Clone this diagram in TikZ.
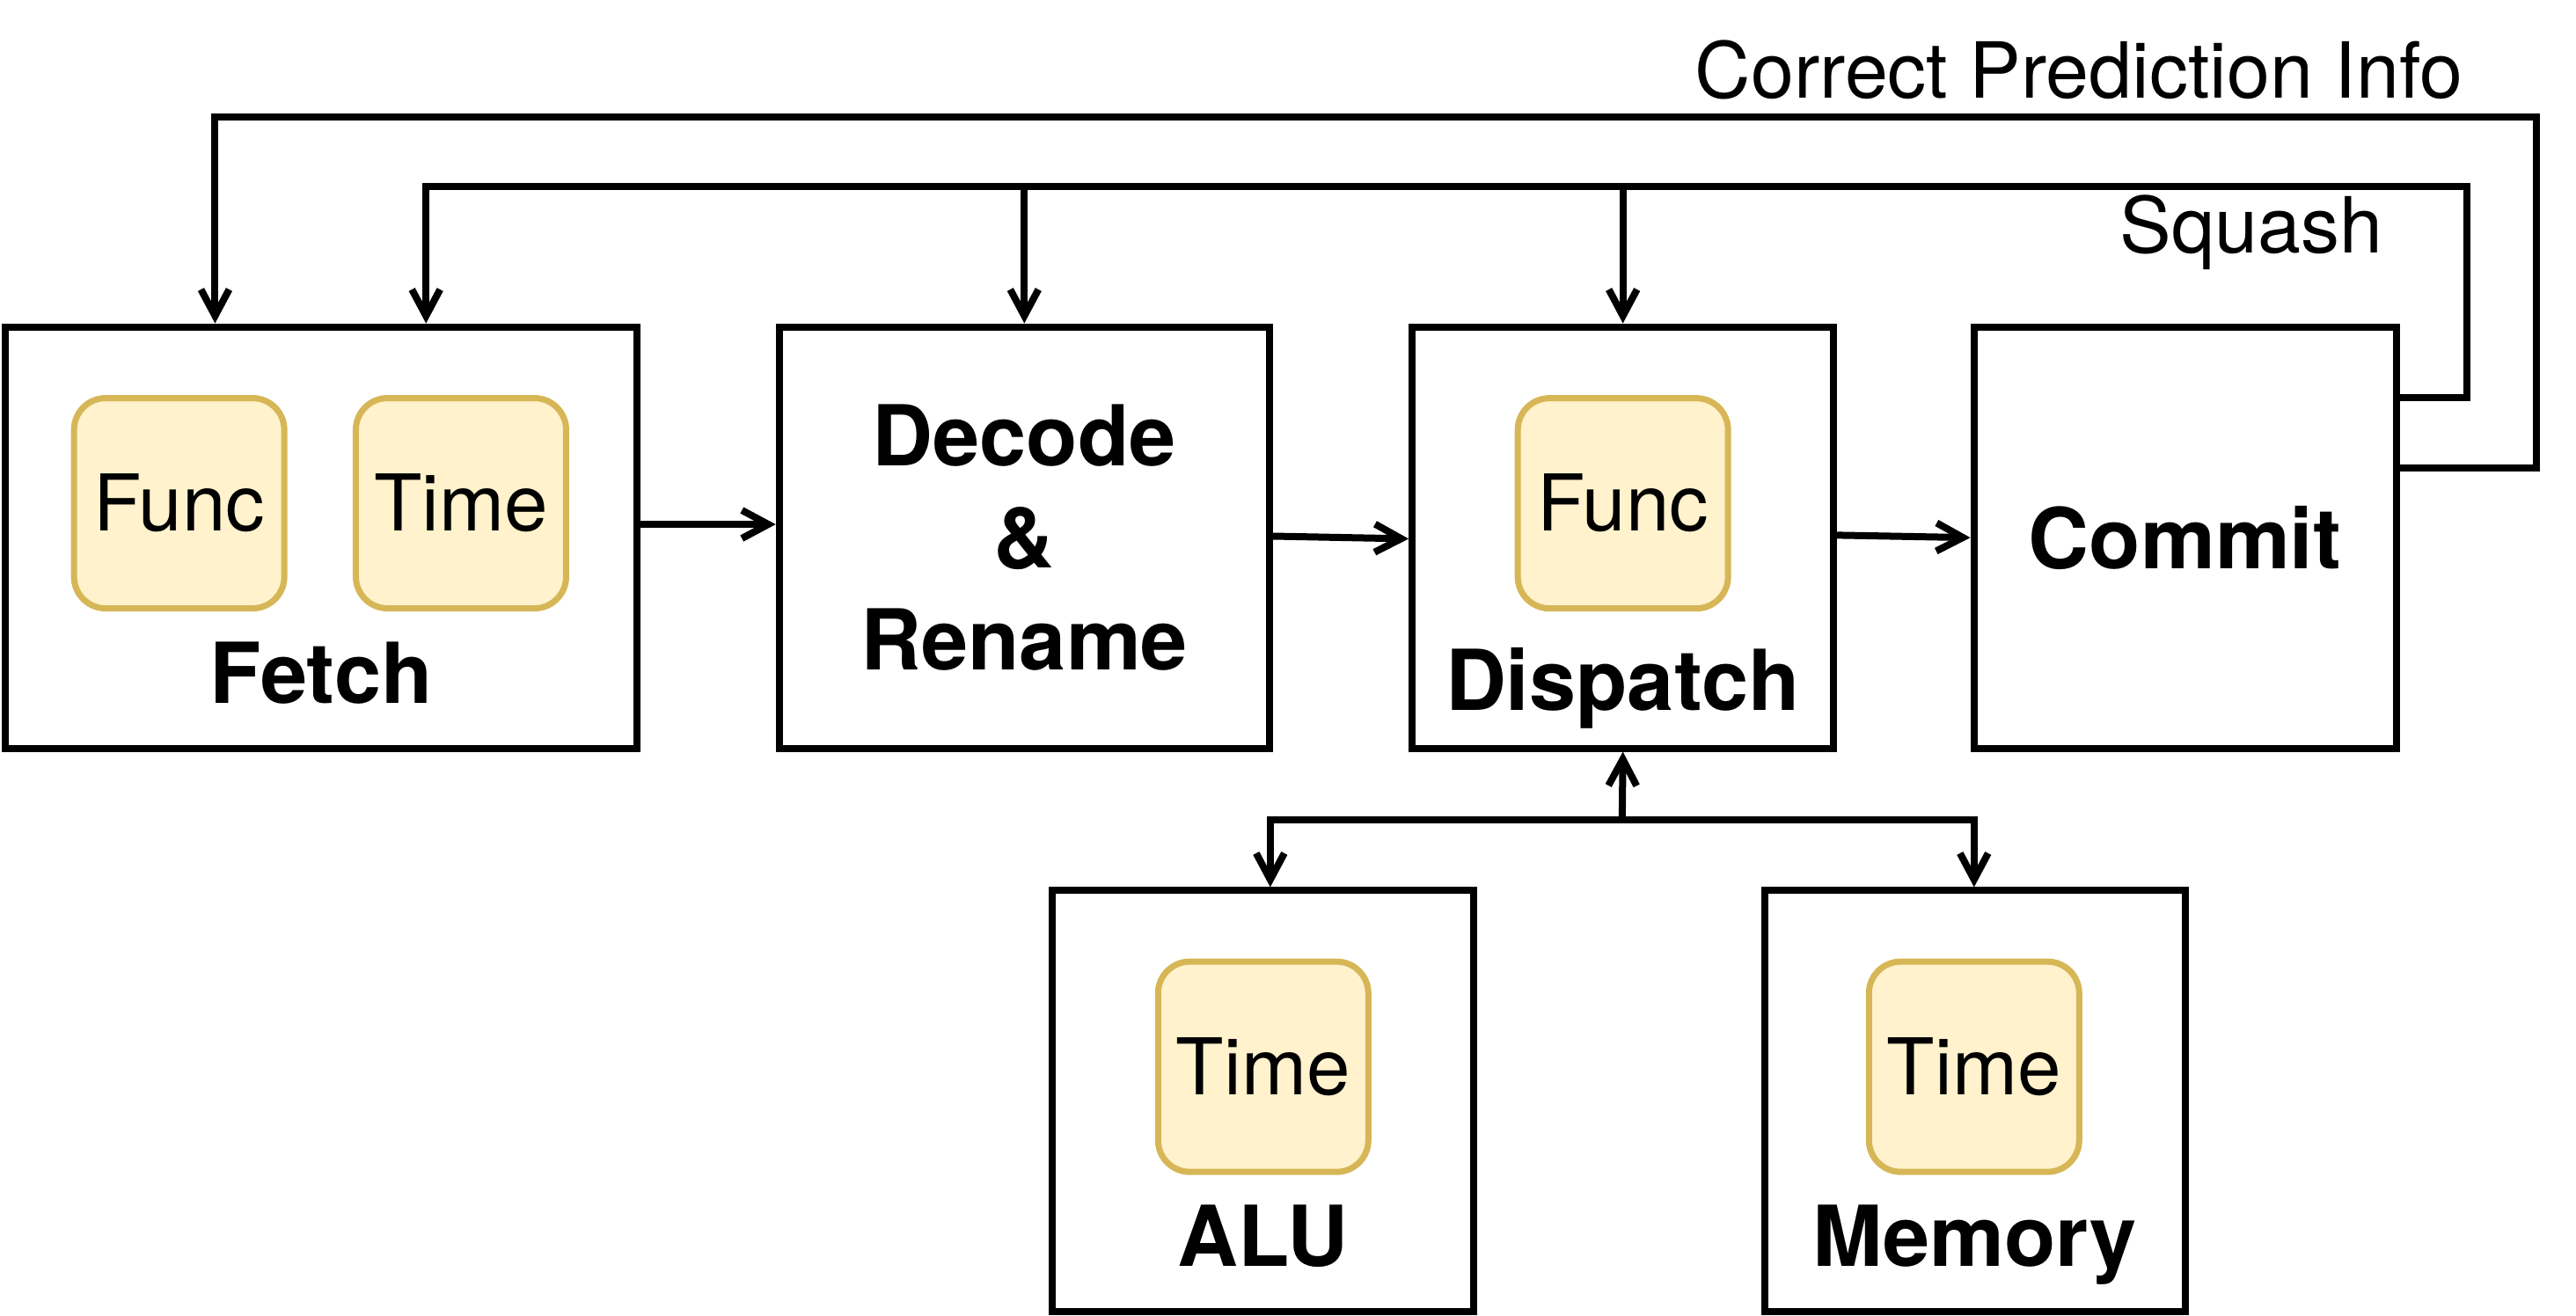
\documentclass[tikz,border=0pt]{standalone}
\usepackage{fontspec}
\setmainfont{TeX Gyre Heros}
\usetikzlibrary{arrows.meta}
\definecolor{yfill}{HTML}{FFF2CC}
\definecolor{ydraw}{HTML}{D6B656}
\begin{document}
\begin{tikzpicture}[x=1.8673pt,y=-1.8673pt,
  stage/.style={draw=black, line width=8pt, rectangle, minimum height=479pt, inner sep=0pt},
  unit/.style={draw=ydraw, fill=yfill, line width=7pt, rounded corners=36pt, minimum width=239pt, minimum height=239pt, inner sep=0pt, font=\fontsize{89}{106}\selectfont},
  boldlbl/.style={font=\fontsize{95.5}{116}\selectfont\bfseries, inner sep=0pt},
  note/.style={font=\fontsize{88}{104}\selectfont, inner sep=0pt},
  conn/.style={line width=8pt},
  arr/.style={conn, -{Straight Barb[length=30pt,width=32pt]}},
]
\useasboundingbox (0,0) rectangle (1568,801);

% stages
\node[stage, minimum width=718pt] (fetch) at (195.45,327.25) {};
\node[stage, minimum width=557pt] (decode) at (623.5,327.25) {};
\node[stage, minimum width=479pt] (dispatch) at (987.85,327.25) {};
\node[stage, minimum width=480pt] (commit) at (1330,327.25) {};
\node[stage, minimum width=479pt] (alu) at (768.75,670.45) {};
\node[stage, minimum width=478pt] (memory) at (1202.1,670.45) {};

% inner units
\node[unit] (ffunc) at (109.05,306.35) {Func};
\node[unit] (ftime) at (280.6,306.35) {Time};
\node[unit] (dfunc) at (987.85,306.4) {Func};
\node[unit] (atime) at (768.9,649.4) {Time};
\node[unit] (mtime) at (1201.6,649.4) {Time};

% labels
\coordinate (fb) at (0,428.2);
\coordinate (db) at (0,432.4);
\coordinate (ab) at (0,770.8);
\node[boldlbl, anchor=base] (flabel) at (fetch.center |- fb) {Fetch};
\node[boldlbl, anchor=base] (dlabel) at (dispatch.center |- db) {Dispatch};
\node[boldlbl, anchor=base] (alabel) at (alu.center |- ab) {ALU};
\node[boldlbl, anchor=base] (mlabel) at (memory.center |- ab) {Memory};
\node[boldlbl] (clabel) at (commit.center) {Commit};
\node[boldlbl, align=center] (rlabel) at (decode.center) {Decode\\\&\\Rename};

\node[note, anchor=base east] (cpi) at (1499.3,59.7) {Correct Prediction Info};
\node[note, anchor=base east] (sq) at (1450.5,154.2) {Squash};

% pipeline arrows
\coordinate (fd) at (0,319.2);
\coordinate (dd1) at (0,326.4);
\coordinate (dd2) at (0,328);
\coordinate (dc1) at (0,325.8);
\coordinate (dc2) at (0,327.3);
\draw[arr] (fetch.east |- fd) -- (decode.west |- fd);
\draw[arr] (decode.east |- dd1) -- (dispatch.west |- dd2);
\draw[arr] (dispatch.east |- dc1) -- (commit.west |- dc2);

% squash
\coordinate (sqA) at (1501.5,241.8);
\coordinate (sqB) at (1501.5,113.7);
\coordinate (sqC) at (259.3,113.7);
\draw[arr] (commit.east |- sqA) -- (sqA) -- (sqB) -- (sqC) -- (sqC |- fetch.north);
\draw[arr] (decode.north |- sqC) -- (decode.north);
\draw[arr] (dispatch.north |- sqC) -- (dispatch.north);

% correct prediction info
\coordinate (cpA) at (1544,284.8);
\coordinate (cpB) at (1544,71);
\coordinate (cpC) at (130.9,71);
\draw[arr] (commit.east |- cpA) -- (cpA) -- (cpB) -- (cpC) -- (cpC |- fetch.north);

% dispatch to units
\coordinate (brM) at (987.4,499.1);
\coordinate (brL) at (773.2,499.1);
\coordinate (brR) at (1201.6,499.1);
\draw[arr] (brM) -- (dispatch.south);
\draw[arr] (brM) -- (brL) -- (brL |- alu.north);
\draw[arr] (brM) -- (brR) -- (brR |- memory.north);
\end{tikzpicture}
\end{document}
